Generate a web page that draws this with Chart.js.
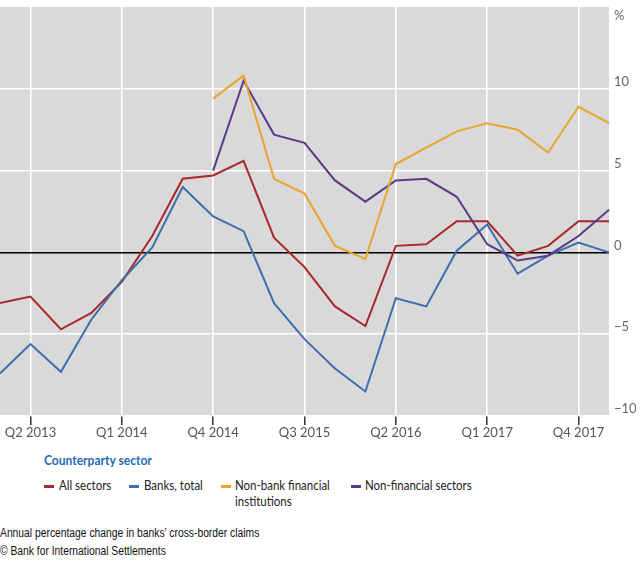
<!DOCTYPE html>
<html>
<head>
<meta charset="utf-8">
<script src="https://cdn.jsdelivr.net/npm/chart.js@4/dist/chart.umd.min.js"></script>
<style>
  html, body { margin: 0; padding: 0; background: #fff; }
  body { width: 640px; height: 576px; position: relative; overflow: hidden; }
  #wrap { position: absolute; left: 0; top: 0; width: 640px; height: 445px; }
  .lg-title { position: absolute; left: 44px; top: 451px; font-family: Lato, sans-serif; font-weight: bold; font-size: 14px; color: #1f6cb4; transform: scaleX(0.86); transform-origin: 0 0; white-space: nowrap; }
  .lg-item { position: absolute; top: 477px; font-family: Lato, sans-serif; font-size: 14px; color: #222; line-height: 16px; }
  .lg-dash { position: absolute; width: 10px; height: 2.5px; top: 8px; }
  .lg-text { position: absolute; white-space: nowrap; transform: scaleX(0.82); transform-origin: 0 0; }
  .foot { position: absolute; left: 0; font-family: "Liberation Sans", sans-serif; font-size: 12.5px; color: #111; white-space: nowrap; transform: scaleX(0.825); transform-origin: 0 0; }
</style>
</head>
<body>
<div id="wrap"><canvas id="c"></canvas></div>

<div class="lg-title">Counterparty sector</div>
<div class="lg-item" style="left:44px;"><div class="lg-dash" style="left:0;background:#a8282c;"></div><div class="lg-text" style="left:15px;">All sectors</div></div>
<div class="lg-item" style="left:129px;"><div class="lg-dash" style="left:0;background:#3c6fae;"></div><div class="lg-text" style="left:15px;">Banks, total</div></div>
<div class="lg-item" style="left:221px;"><div class="lg-dash" style="left:0;background:#e8a42c;"></div><div class="lg-text" style="left:14px;">Non-bank financial<br>institutions</div></div>
<div class="lg-item" style="left:351px;"><div class="lg-dash" style="left:0;background:#5c3a86;"></div><div class="lg-text" style="left:14px;">Non-financial sectors</div></div>

<div class="foot" style="top:526px;">Annual percentage change in banks’ cross-border claims</div>
<div class="foot" style="top:544px;">© Bank for International Settlements</div>

<script>
const quarters = ["Q1 2013","Q2 2013","Q3 2013","Q4 2013","Q1 2014","Q2 2014","Q3 2014","Q4 2014",
  "Q1 2015","Q2 2015","Q3 2015","Q4 2015","Q1 2016","Q2 2016","Q3 2016","Q4 2016",
  "Q1 2017","Q2 2017","Q3 2017","Q4 2017","Q1 2018"];
const allSectors = [-3.1,-2.7,-4.7,-3.7,-1.8,1.0,4.5,4.7,5.6,0.9,-0.9,-3.3,-4.5,0.4,0.5,1.9,1.9,-0.2,0.4,1.9,1.9];
const banksTotal = [-7.4,-5.6,-7.3,-4.1,-1.7,0.3,4.0,2.2,1.3,-3.1,-5.3,-7.1,-8.5,-2.8,-3.3,0.1,1.7,-1.3,-0.2,0.6,0.0];
const nonBankFin = [null,null,null,null,null,null,null,9.4,10.8,4.5,3.6,0.4,-0.4,5.4,6.4,7.4,7.9,7.5,6.1,8.9,7.9];
const nonFinancial = [null,null,null,null,null,null,null,5.0,10.5,7.2,6.7,4.4,3.1,4.4,4.5,3.4,0.5,-0.5,-0.2,1.0,2.6];
const yTicks = [-10,-5,0,5,10,15];

const bgPlugin = {
  id: 'bg',
  beforeDraw(chart) {
    const {ctx, chartArea: a} = chart;
    ctx.save();
    ctx.fillStyle = '#d9d9d9';
    ctx.fillRect(a.left, a.top, a.right - a.left, a.bottom - a.top);
    ctx.restore();
  },
  afterDraw(chart) {
    const {ctx, chartArea: a} = chart;
    ctx.save();
    ctx.fillStyle = '#666';
    ctx.font = '13px Lato, sans-serif';
    ctx.textBaseline = 'middle';
    ctx.textAlign = 'left';
    ctx.fillText('%', a.right + 5, a.top + 9);
    ctx.restore();
  }
};

const ds = (label, data, color) => ({
  label, data, borderColor: color, backgroundColor: color,
  borderWidth: 2, pointRadius: 0, tension: 0, spanGaps: false
});

new Chart(document.getElementById('c'), {
  type: 'line',
  data: {
    labels: quarters,
    datasets: [
      ds('Non-bank financial institutions', nonBankFin, '#e8a42c'),
      ds('Non-financial sectors', nonFinancial, '#5c3a86'),
      ds('Banks, total', banksTotal, '#3c6fae'),
      ds('All sectors', allSectors, '#a8282c')
    ]
  },
  options: {
    responsive: true,
    maintainAspectRatio: false,
    animation: false,
    layout: { padding: { top: 7, left: 0, right: 0, bottom: 0 } },
    plugins: { legend: { display: false }, tooltip: { enabled: false } },
    scales: {
      x: {
        type: 'category',
        offset: false,
        afterFit(scale) { scale.height = 29; scale.paddingLeft = 0; scale.paddingRight = 0; },
        border: { display: false },
        grid: {
          drawOnChartArea: true,
          drawTicks: true,
          tickLength: 9,
          lineWidth: 1.6,
          color: ctx => (ctx.index % 3 === 1 ? '#ffffff' : 'rgba(0,0,0,0)'),
          tickColor: ctx => (ctx.index % 3 === 1 ? '#333333' : 'rgba(0,0,0,0)'),
          tickWidth: 1.5
        },
        ticks: {
          autoSkip: false,
          maxRotation: 0,
          padding: 0,
          color: '#555',
          font: { family: 'Lato, sans-serif', size: 13 },
          callback(v, i) { return i % 3 === 1 ? quarters[i] : ''; }
        }
      },
      y: {
        position: 'right',
        min: -10,
        max: 15,
        afterFit(scale) { scale.width = 31; scale.paddingTop = 0; scale.paddingBottom = 0; },
        afterBuildTicks(scale) { scale.ticks = yTicks.map(v => ({ value: v })); },
        border: { display: false },
        grid: {
          drawTicks: false,
          lineWidth: ctx => (ctx.tick && ctx.tick.value === 0 ? 1.4 : 1.6),
          color: ctx => {
            const v = ctx.tick ? ctx.tick.value : null;
            if (v === 0) return '#000000';
            if (v === 15) return 'rgba(0,0,0,0)';
            return '#ffffff';
          }
        },
        ticks: {
          padding: 5,
          labelOffset: -7,
          color: '#666',
          font: { family: 'Lato, sans-serif', size: 13 },
          callback(v) {
            if (v === 15) return '';
            return v < 0 ? '\u2212' + Math.abs(v) : String(v);
          }
        }
      }
    }
  },
  plugins: [bgPlugin]
});
</script>
</body>
</html>
